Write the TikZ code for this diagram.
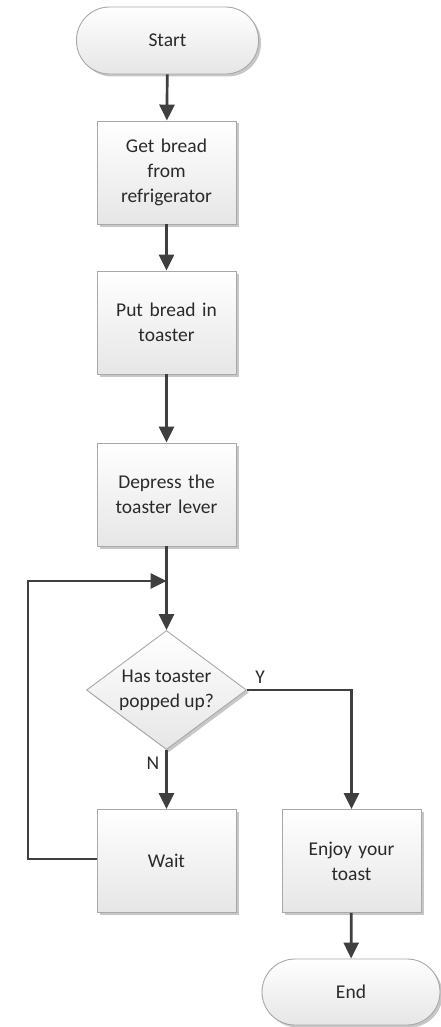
\documentclass[tikz,border=0pt]{standalone}
\usepackage{fontspec}
\setmainfont{Carlito}
\usetikzlibrary{arrows.meta,shapes.geometric,shadows}

\definecolor{edgeline}{HTML}{3F3F3F}
\definecolor{boxline}{HTML}{A8A8A8}
\definecolor{boxbottom}{HTML}{E6E6E6}
\definecolor{txt}{HTML}{2A2A2A}

\tikzset{
  shade/.style={top color=white, bottom color=boxbottom,
    drop shadow={shadow xshift=2.5pt, shadow yshift=-2.5pt, opacity=0.22, fill=black}},
  lbl/.style={font=\fontsize{19.5}{25}\selectfont, text=txt, align=center},
  stepbox/.style={lbl, shade, draw=boxline, line width=0.9pt, rectangle,
    minimum width=139pt, minimum height=103pt, text width=128pt, inner sep=0pt},
  terminal/.style={lbl, shade, draw=boxline, line width=0.9pt, rectangle,
    rounded corners=33pt, minimum width=182pt, minimum height=67pt, inner sep=0pt},
  decision/.style={lbl, shade, draw=boxline, line width=0.9pt, diamond,
    shape aspect=1.34, minimum width=160pt, minimum height=119pt, inner sep=0pt},
  flow/.style={draw=edgeline, line width=2.7pt},
  arrow/.style={flow, -{Triangle[width=15pt,length=16pt]}},
  yn/.style={font=\fontsize{19.5}{23}\selectfont, text=txt}
}

\begin{document}
\begin{tikzpicture}[x=1pt,y=-1pt]
  \useasboundingbox (0,0) rectangle (441,1027);

  % nodes
  \node[terminal] (start) at (167.5,40.5) {Start};
  \node[stepbox] (get)   at (166.5,172.5) {Get bread\\from\\refrigerator};
  \node[stepbox] (put)   at (166.5,322.5) {Put bread in\\toaster};
  \node[stepbox] (dep)   at (166.5,494.5) {Depress the\\toaster lever};
  \node[decision] (dec)  at (166.5,690) {Has toaster\\popped up?};
  \node[stepbox] (wait)  at (166.5,861) {Wait};
  \node[stepbox] (enjoy) at (351.5,861) {Enjoy your\\toast};
  \node[terminal, minimum width=178pt, minimum height=66pt] (end) at (351,992) {End};

  \coordinate (join) at (166.5,581);
  \coordinate (loopx) at (28,0);

  % connectors
  \draw[arrow] (start) -- (get);
  \draw[arrow] (get) -- (put);
  \draw[arrow] (put) -- (dep);
  \draw[flow] (dep.south) -- (join);
  \draw[arrow] (join) -- (dec.north);
  \draw[arrow] (dec.south) -- (wait.north);
  \draw[arrow] (dec.east) -| (enjoy.north);
  \draw[arrow] ([yshift=2pt]wait.west) -| (loopx |- join) -- (join);
  \draw[arrow] (enjoy) -- (end);

  % branch labels
  \node[yn] (ylab) at (260,677) {Y};
  \node[yn] (nlab) at (153,763) {N};
\end{tikzpicture}
\end{document}
